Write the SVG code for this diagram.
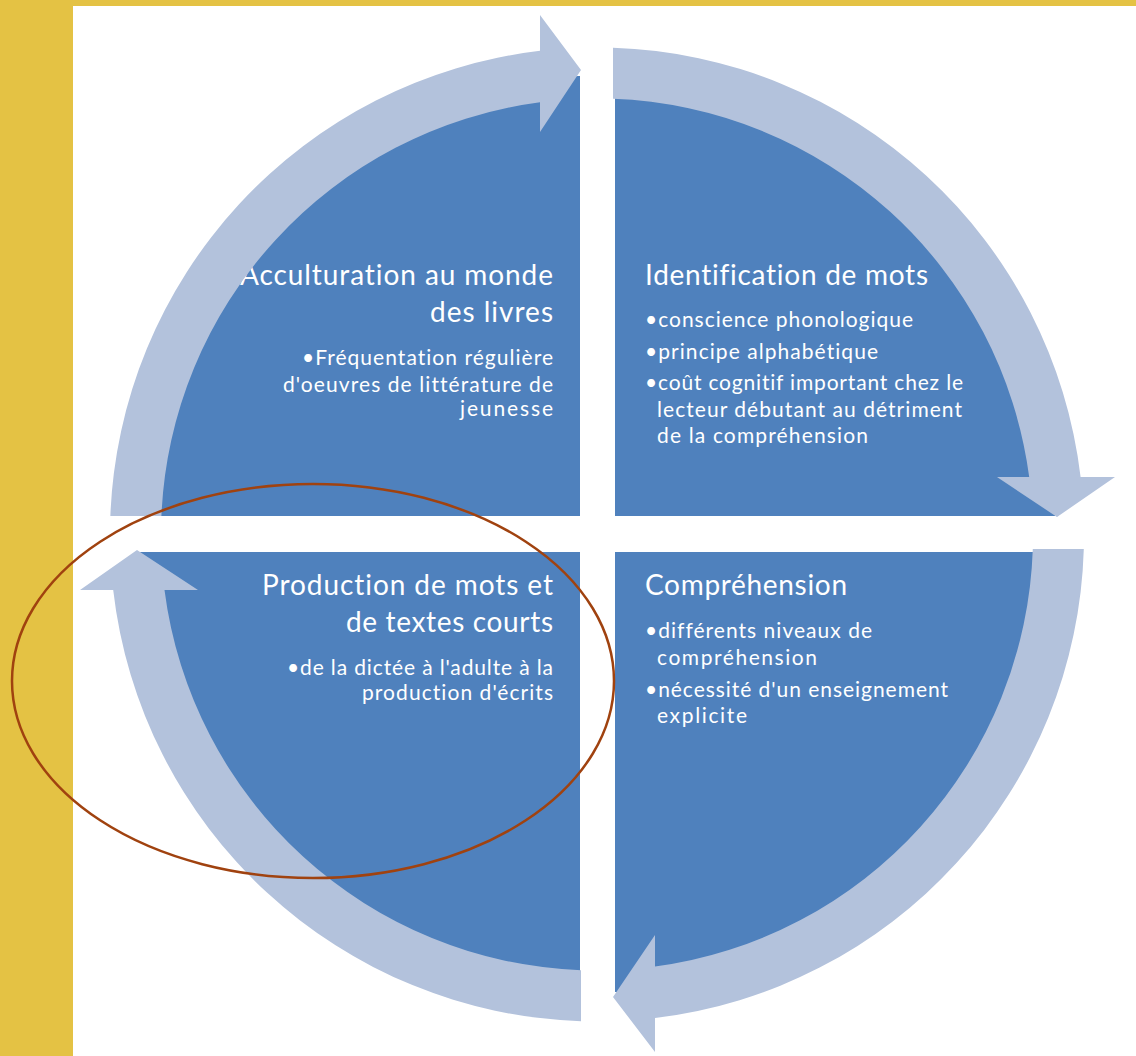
<svg xmlns="http://www.w3.org/2000/svg" width="1136" height="1056" viewBox="0 0 1136 1056">
<style>
.bg{fill:#E4C244}
.pie{fill:#4F81BD}
.ring{fill:#B3C2DC}
.t{font-family:Lato,"Liberation Sans",sans-serif;fill:#FFFFFF;font-variant-ligatures:none;font-feature-settings:"liga" 0}
.h{font-size:28px}
.b{font-size:21px}
.e{text-anchor:end}
.mark{fill:none;stroke:#A0420F;stroke-width:2.5}
</style>
<rect x="0" y="0" width="1136" height="1056" fill="#FFFFFF"/>
<rect class="bg" x="0" y="0" width="1136" height="6"/>
<rect class="bg" x="0" y="0" width="73" height="1056"/>

<g id="node-acculturation">
<path class="pie" d="M580,516 L140,516 A440,440 0 0 1 580,76 Z"/>
<text class="t h e" x="553" y="285" textLength="313">Acculturation au monde</text>
<text class="t h e" x="553" y="322" textLength="123">des livres</text>
<text class="t b e" x="553" y="365" textLength="251">•Fréquentation régulière</text>
<text class="t b e" x="553" y="392" textLength="270">d'oeuvres de littérature de</text>
<text class="t b e" x="553" y="416" textLength="93">jeunesse</text>
</g>

<g id="node-identification">
<path class="pie" d="M615,516 L615,76 A440,440 0 0 1 1055,516 Z"/>
<text class="t h" x="645" y="285" textLength="283">Identification de mots</text>
<text class="t b" x="645" y="327" textLength="268">•conscience phonologique</text>
<text class="t b" x="645" y="359" textLength="233">•principe alphabétique</text>
<text class="t b" x="645" y="390" textLength="318">•coût cognitif important chez le</text>
<text class="t b" x="657" y="417" textLength="305">lecteur débutant au détriment</text>
<text class="t b" x="657" y="443" textLength="211">de la compréhension</text>
</g>

<g id="node-comprehension">
<path class="pie" d="M615,552 L1055,552 A440,440 0 0 1 615,992 Z"/>
<text class="t h" x="645" y="595" textLength="202">Compréhension</text>
<text class="t b" x="645" y="638" textLength="227">•différents niveaux de</text>
<text class="t b" x="657" y="665" textLength="160">compréhension</text>
<text class="t b" x="645" y="697" textLength="303">•nécessité d'un enseignement</text>
<text class="t b" x="657" y="723" textLength="90">explicite</text>
</g>

<g id="node-production">
<path class="pie" d="M580,552 L580,992 A440,440 0 0 1 140,552 Z"/>
<text class="t h e" x="553" y="595" textLength="291">Production de mots et</text>
<text class="t h e" x="553" y="632" textLength="207">de textes courts</text>
<text class="t b e" x="553" y="675" textLength="266">•de la dictée à l'adulte à la</text>
<text class="t b e" x="553" y="700" textLength="191">production d'écrits</text>
</g>

<g id="connectors">
<path class="ring" d="M110.35,516 A487,487 0 0 1 540,50.85 L540,15 L581,70 L540,132 L540,102.24 A436,436 0 0 0 161.4,516 Z"/>
<path class="ring" d="M613,47.76 A487,487 0 0 1 1080.6,477 L1115,477 L1057,517 L997,477 L1029.2,477 A436,436 0 0 0 613,98.79 Z"/>
<path class="ring" d="M1083.8,549 A487,487 0 0 1 655,1018 L655,1052 L613,997 L655,935 L655,966.6 A436,436 0 0 0 1032.8,549 Z"/>
<path class="ring" d="M581,1021.2 A487,487 0 0 1 113.2,590 L80,590 L137,550 L198,590 L164.5,590 A436,436 0 0 0 581,970.2 Z"/>
</g>

<g id="highlight">
<ellipse class="mark" cx="313" cy="681" rx="301" ry="197"/>
</g>
</svg>
